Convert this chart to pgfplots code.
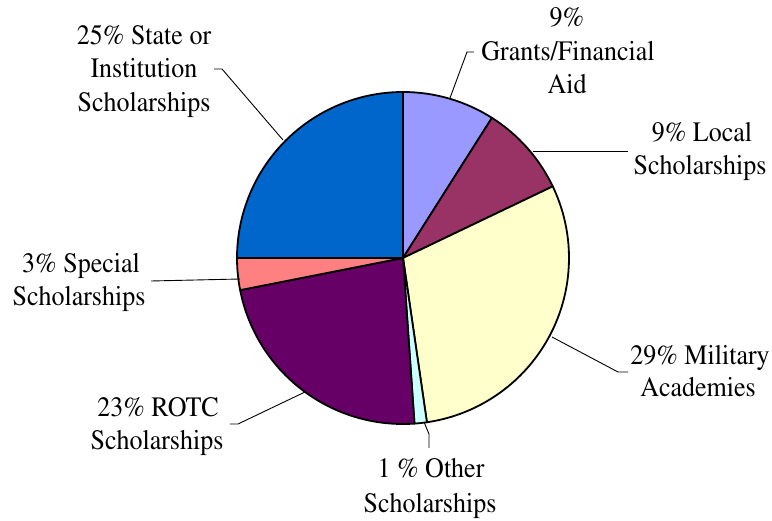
\documentclass[border=0pt]{standalone}
\usepackage[T1]{fontenc}
\usepackage{times}
\usepackage{graphicx}
\usepackage{pgfplots}
\pgfplotsset{compat=1.18}
\usepackage{pgfplotstable}
\definecolor{cGrants}{HTML}{9999FF}
\definecolor{cLocal}{HTML}{993366}
\definecolor{cMilitary}{HTML}{FFFFCC}
\definecolor{cOther}{HTML}{CCFFFF}
\definecolor{cROTC}{HTML}{660066}
\definecolor{cSpecial}{HTML}{FF8080}
\definecolor{cState}{HTML}{0066CC}
\newcommand\lab{\rmfamily\fontsize{26bp}{33bp}\selectfont}
\newcommand\T[1]{\scalebox{1}[1.08]{#1}}
\pgfplotstableread{
value color
9.0 cGrants
8.9 cLocal
29.8 cMilitary
1.2 cOther
23.0 cROTC
3.1 cSpecial
25.0 cState
}\piedata
\begin{document}
\begin{tikzpicture}
\begin{axis}[hide axis, scale only axis, width=772bp, height=521bp,
  xmin=0, xmax=772, ymin=0, ymax=521, clip=false]
\pgfplotsextra{
  \gdef\cum{0}
  \pgfplotstableforeachcolumnelement{value}\of\piedata\as\v{
    \pgfmathsetmacro\sa{90-3.6*\cum}
    \pgfmathsetmacro\ea{90-3.6*(\cum+\v)}
    \pgfplotstablegetelem{\pgfplotstablerow}{color}\of\piedata
    \edef\col{\pgfplotsretval}
    \filldraw[fill=\col, draw=black, line width=1.8bp, line join=round]
      (axis cs:403,263) -- ++(\sa:166bp) arc[start angle=\sa, end angle=\ea, radius=166bp] -- cycle;
    \pgfmathsetmacro\tmp{\cum+\v}
    \xdef\cum{\tmp}
  }
  % leader lines
  \draw[black, line width=0.9bp] (axis cs:214,452) -- (axis cs:222,452) -- (axis cs:283,381);
  \draw[black, line width=0.9bp] (axis cs:474,469) -- (axis cs:467,469) -- (axis cs:450,423);
  \draw[black, line width=0.9bp] (axis cs:533,370) -- (axis cs:628,370);
  \draw[black, line width=0.9bp] (axis cs:552,184) -- (axis cs:618,149) -- (axis cs:628,149);
  \draw[black, line width=0.9bp] (axis cs:424,99) -- (axis cs:429,87) -- (axis cs:429,73);
  \draw[black, line width=0.9bp] (axis cs:305,129) -- (axis cs:238,97) -- (axis cs:230,97);
  \draw[black, line width=0.9bp] (axis cs:240,242) -- (axis cs:151,240);
  % labels
  \node[anchor=base, font=\lab] at (axis cs:144,476) {\T{25\% State or}};
  \node[anchor=base, font=\lab] at (axis cs:144,443) {\T{Institution}};
  \node[anchor=base, font=\lab] at (axis cs:144,409) {\T{Scholarships}};
  \node[anchor=base, font=\lab] at (axis cs:567,494) {\T{9\%}};
  \node[anchor=base, font=\lab] at (axis cs:568,460) {\T{Grants/Financial}};
  \node[anchor=base, font=\lab] at (axis cs:567,427) {\T{Aid}};
  \node[anchor=base, font=\lab] at (axis cs:702,379) {\T{9\% Local}};
  \node[anchor=base, font=\lab] at (axis cs:700,346) {\T{Scholarships}};
  \node[anchor=base, font=\lab] at (axis cs:700,156) {\T{29\% Military}};
  \node[anchor=base, font=\lab] at (axis cs:698,124) {\T{Academies}};
  \node[anchor=base, font=\lab] at (axis cs:431,43) {\T{1 \% Other}};
  \node[anchor=base, font=\lab] at (axis cs:430,9) {\T{Scholarships}};
  \node[anchor=base, font=\lab] at (axis cs:158,104) {\T{23\% ROTC}};
  \node[anchor=base, font=\lab] at (axis cs:157,71) {\T{Scholarships}};
  \node[anchor=base, font=\lab] at (axis cs:81,248) {\T{3\% Special}};
  \node[anchor=base, font=\lab] at (axis cs:79,215) {\T{Scholarships}};
}
\end{axis}
\pgfresetboundingbox
\path (0,0) rectangle (772bp,521bp);
\end{tikzpicture}
\end{document}
